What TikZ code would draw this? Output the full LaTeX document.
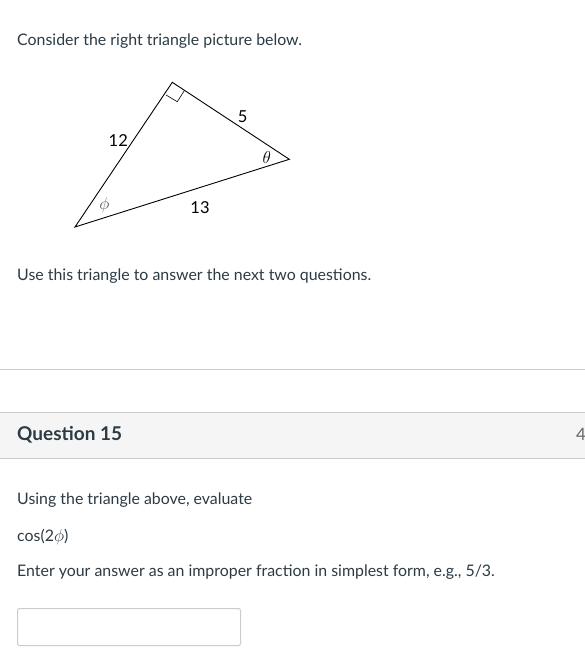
\documentclass[tikz,border=0pt]{standalone}
\usepackage{fontspec}
\setmainfont{Lato}
\begin{document}
\begin{tikzpicture}[x=1pt,y=-1pt,
  txt/.style={inner sep=0pt,anchor=west,text=textc,font=\fontsize{15.9}{18}\selectfont},
  lbl/.style={inner sep=0pt,text=black,font=\fontsize{16.5}{19}\selectfont},
  rule/.style={draw=rulec,line width=1pt}]
\definecolor{textc}{HTML}{2D3B45}
\definecolor{rulec}{HTML}{C7CDD1}
\definecolor{headc}{HTML}{F5F5F5}
\useasboundingbox (0,0) rectangle (585,672);
\fill[white] (0,0) rectangle (585,672);
% intro
\node[txt] (intro) at (17,41.5) {Consider the right triangle picture below.};
% triangle
\coordinate (A) at (75,227);
\coordinate (B) at (172.3,82.3);
\coordinate (C) at (289.3,159.3);
\draw[line width=0.9pt,line join=miter] (A) -- (B) -- (C) -- cycle;
\draw[line width=0.6pt] (166,95) -- (177.3,101.7) -- (184.3,90.7);
\node[lbl] (l12) at (118.3,141) {12};
\node[lbl] (l5) at (242.7,116.7) {5};
\node[lbl] (l13) at (200,207.5) {13};
\node[lbl,font=\fontsize{18}{20}\selectfont] (lth) at (266.7,157) {$\theta$};
\node[lbl,text=black!65,font=\fontsize{18}{20}\selectfont] (lph) at (104.3,205.5) {$\phi$};
% use
\node[txt] (use) at (17,276.5) {Use this triangle to answer the next two questions.};
% rules and header
\draw[rule] (0,369.3) -- (585,369.3);
\fill[headc] (0,412.3) rectangle (585,458.3);
\draw[rule] (0,412.3) -- (585,412.3);
\draw[rule] (0,458.3) -- (585,458.3);
\node[txt,font=\fontsize{19}{22}\selectfont\bfseries] (q) at (17,434.5) {Question 15};
\node[txt,text=black!60,font=\fontsize{17}{20}\selectfont] (pts) at (576,434.5) {4};
% question
\node[txt] (using) at (17,500) {Using the triangle above, evaluate};
\node[txt] (cos) at (17,537) {cos(2{\fontsize{18.5}{20}\selectfont$\phi$})};
\node[txt] (enter) at (17,572.5) {Enter your answer as an improper fraction in simplest form, e.g., 5/3.};
\draw[rule,rounded corners=2pt] (17.5,608.5) rectangle (240.5,645.5);
\end{tikzpicture}
\end{document}
